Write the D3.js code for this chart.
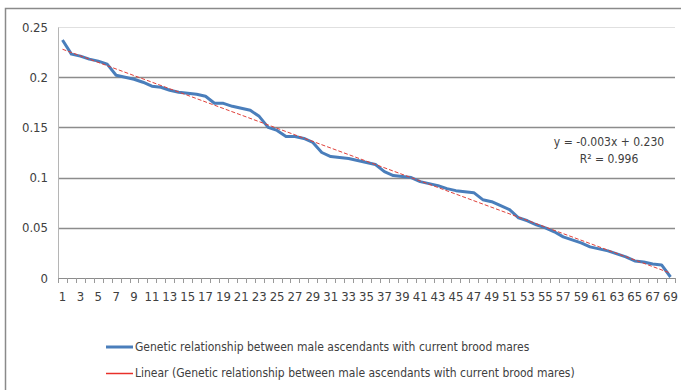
<!DOCTYPE html>
<html>
<head>
<meta charset="utf-8">
<script src="https://cdn.jsdelivr.net/npm/d3@7"></script>
<style>
body { margin: 0; background: #fff; }
text { font-family: "Liberation Sans Narrow", "DejaVu Sans Condensed", Arial, sans-serif; fill: #404040; }
</style>
</head>
<body>
<div id="chart"></div>
<script>
// data (rank 1..69)
var ranks = d3.range(1, 70);
var relationship = [
  0.237, 0.223, 0.221, 0.218, 0.216, 0.213, 0.202, 0.200, 0.198, 0.195,
  0.191, 0.190, 0.187, 0.185, 0.184, 0.183, 0.181, 0.174, 0.174, 0.171,
  0.169, 0.167, 0.161, 0.150, 0.147, 0.141, 0.141, 0.139, 0.135, 0.125,
  0.121, 0.120, 0.119, 0.117, 0.115, 0.113, 0.106, 0.102, 0.101, 0.100,
  0.096, 0.094, 0.092, 0.089, 0.087, 0.086, 0.085, 0.078, 0.076, 0.072,
  0.068, 0.060, 0.057, 0.053, 0.050, 0.046, 0.041, 0.038, 0.035, 0.031,
  0.029, 0.027, 0.024, 0.021, 0.017, 0.016, 0.014, 0.013, 0.001
];
var yTicks = [0, 0.05, 0.1, 0.15, 0.2, 0.25];
var seriesName = "Genetic relationship between male ascendants with current brood mares";
var trendName = "Linear (Genetic relationship between male ascendants with current brood mares)";
var equationText = "y = -0.003x + 0.230";
var r2Text = "R\u00B2 = 0.996";

var svgWidth = 681;
var svgHeight = 390;
var margin = {top: 27, right: 6, bottom: 112, left: 58};
var chartWidth = svgWidth - margin.left - margin.right;
var chartHeight = svgHeight - margin.top - margin.bottom;

var svg = d3.select("#chart").append("svg")
  .attr("width", svgWidth)
  .attr("height", svgHeight);

// outer frame
svg.append("path")
  .attr("d", "M5.5," + svgHeight + "V8.5H" + svgWidth)
  .attr("fill", "none")
  .attr("stroke", "#8a8a8a")
  .attr("stroke-width", 1.5);

var chartGroup = svg.append("g")
  .attr("transform", `translate(${margin.left}, ${margin.top})`);

var xScale = d3.scaleBand()
  .domain(ranks)
  .range([0, chartWidth]);

var yScale = d3.scaleLinear()
  .domain([0, 0.25])
  .range([chartHeight, 0]);

// gridlines
chartGroup.selectAll(".grid")
  .data(yTicks.filter(d => d > 0))
  .enter()
  .append("line")
  .attr("x1", 0)
  .attr("x2", chartWidth)
  .attr("y1", d => Math.round(yScale(d)) + 0.5)
  .attr("y2", d => Math.round(yScale(d)) + 0.5)
  .attr("stroke", d => d === 0.25 ? "#e0e0e0" : "#8c8c8c")
  .attr("stroke-width", d => d === 0.25 ? 1 : 1.3);

// y axis
var leftAxis = d3.axisLeft(yScale)
  .tickValues(yTicks)
  .tickSize(0)
  .tickPadding(10)
  .tickFormat(d => d === 0 ? "0" : String(d));
var yAxis = chartGroup.append("g").call(leftAxis);
yAxis.select(".domain").attr("stroke", "#b5b5b5");
yAxis.selectAll("text").style("font-size", "13px").attr("fill", "#404040");

// x axis
var bottomAxis = d3.axisBottom(xScale)
  .tickSize(0)
  .tickPadding(14)
  .tickFormat(d => d % 2 === 1 ? d : "");
var xAxis = chartGroup.append("g")
  .attr("transform", `translate(0, ${chartHeight})`)
  .call(bottomAxis);
xAxis.select(".domain").attr("stroke", "#8c8c8c");
xAxis.selectAll("text").style("font-size", "13px").attr("fill", "#404040");

// tick marks between categories
chartGroup.append("g")
  .selectAll("line")
  .data(ranks.concat([70]))
  .enter()
  .append("line")
  .attr("x1", d => Math.round(d === 70 ? chartWidth : xScale(d)) + 0.5)
  .attr("x2", d => Math.round(d === 70 ? chartWidth : xScale(d)) + 0.5)
  .attr("y1", chartHeight)
  .attr("y2", chartHeight + 5)
  .attr("stroke", "#9a9a9a");

var cx = d => xScale(d) + xScale.bandwidth() / 2;

// data line
var line = d3.line()
  .x((d, i) => cx(ranks[i]))
  .y(d => yScale(d));
chartGroup.append("path")
  .datum(relationship)
  .attr("d", line)
  .attr("fill", "none")
  .attr("stroke", "#4a7ebb")
  .attr("stroke-width", 3)
  .attr("stroke-linejoin", "round");

// linear trend from least squares fit
var mx = d3.mean(ranks), my = d3.mean(relationship);
var slope = d3.sum(ranks, (r, i) => (r - mx) * (relationship[i] - my)) /
            d3.sum(ranks, r => (r - mx) * (r - mx));
var intercept = my - slope * mx;
chartGroup.append("line")
  .attr("x1", cx(ranks[0]))
  .attr("y1", yScale(intercept + slope * ranks[0]))
  .attr("x2", cx(ranks[ranks.length - 1]))
  .attr("y2", yScale(intercept + slope * ranks[ranks.length - 1]))
  .attr("stroke", "#e0403a")
  .attr("stroke-width", 1)
  .attr("stroke-dasharray", "4,2");

// equation labels
chartGroup.append("text")
  .attr("x", 551)
  .attr("y", 119)
  .attr("text-anchor", "middle")
  .style("font-size", "12px")
  .text(equationText);
chartGroup.append("text")
  .attr("x", 551)
  .attr("y", 136)
  .attr("text-anchor", "middle")
  .style("font-size", "12px")
  .text(r2Text);

// legend
var legend = svg.append("g");
legend.append("line")
  .attr("x1", 106).attr("x2", 133)
  .attr("y1", 347).attr("y2", 347)
  .attr("stroke", "#4a7ebb").attr("stroke-width", 3);
legend.append("text")
  .attr("x", 135).attr("y", 351)
  .style("font-size", "12px")
  .text(seriesName);
legend.append("line")
  .attr("x1", 106).attr("x2", 133)
  .attr("y1", 373.5).attr("y2", 373.5)
  .attr("stroke", "#e8302a").attr("stroke-width", 1.5);
legend.append("text")
  .attr("x", 135).attr("y", 377)
  .style("font-size", "12px")
  .text(trendName);
</script>
</body>
</html>
